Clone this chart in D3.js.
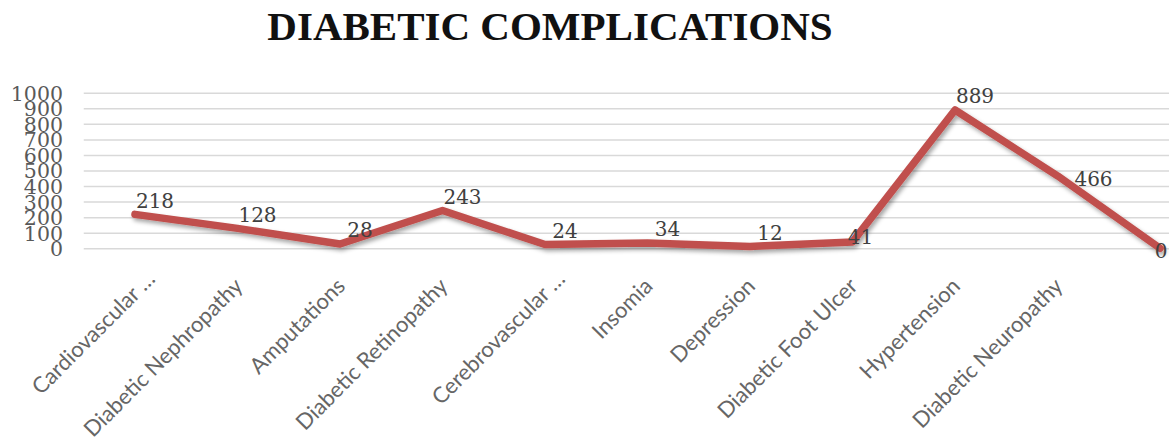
<!DOCTYPE html>
<html>
<head>
<meta charset="utf-8">
<script src="https://cdn.jsdelivr.net/npm/d3@7"></script>
<style>
  html, body { margin: 0; padding: 0; background: #fff; }
  svg { display: block; }
</style>
</head>
<body>
<svg id="chart" width="1169" height="441"></svg>
<script>
// Complications and patient counts
const categories = [
  "Cardiovascular …",
  "Diabetic Nephropathy",
  "Amputations",
  "Diabetic Retinopathy",
  "Cerebrovascular …",
  "Insomia",
  "Depression",
  "Diabetic Foot Ulcer",
  "Hypertension",
  "Diabetic Neuropathy",
  ""
];
const counts = [218, 128, 28, 243, 24, 34, 12, 41, 889, 466, 0];
const yTicks = [0, 100, 200, 300, 400, 500, 600, 700, 800, 900, 1000];
const title = "DIABETIC COMPLICATIONS";

const svg = d3.select("#chart");

// plot area (extends past the right edge, which crops it)
const plotLeft = 83.75, plotRight = 1211.25;
const plotTop = 92.7, plotBottom = 248.3;

const x = d3.scalePoint().domain(categories).range([plotLeft, plotRight]).padding(0.5);
const y = d3.scaleLinear().domain([0, 1000]).range([plotBottom, plotTop]);

const defs = svg.append("defs");
const shadow = defs.append("filter").attr("id", "lineShadow")
  .attr("x", "-5%").attr("y", "-20%").attr("width", "110%").attr("height", "150%");
shadow.append("feDropShadow")
  .attr("dx", 2).attr("dy", 3).attr("stdDeviation", 2)
  .attr("flood-color", "#000").attr("flood-opacity", 0.35);

// title
svg.append("text")
  .attr("x", 550).attr("y", 40)
  .attr("text-anchor", "middle")
  .style("font-family", "'Liberation Serif', 'Times New Roman', serif")
  .style("font-weight", "bold")
  .style("font-size", "41px")
  .style("fill", "#111")
  .text(title);

// gridlines
const grid = d3.axisLeft(y).tickValues(yTicks).tickSize(-(plotRight - plotLeft)).tickFormat("");
svg.append("g")
  .attr("transform", `translate(${plotLeft},0)`)
  .call(grid)
  .call(g => g.select(".domain").remove())
  .call(g => g.selectAll("line").attr("stroke", "#d9d9d9").attr("stroke-width", 1.5));

// y tick labels
const yAxis = d3.axisLeft(y).tickValues(yTicks).tickFormat(d3.format("d")).tickSize(0).tickPadding(0);
svg.append("g")
  .attr("transform", `translate(63,0)`)
  .call(yAxis)
  .call(g => g.select(".domain").remove())
  .call(g => g.selectAll("text")
    .attr("dy", "0.36em")
    .style("font-family", "'DejaVu Serif', serif")
    .style("font-size", "20.5px")
    .style("fill", "#595959"));

// x category labels, rotated; shortened names end a little further up-right
const xAxis = d3.axisBottom(x).tickSize(0).tickPadding(0);
svg.append("g")
  .call(xAxis)
  .call(g => g.select(".domain").remove())
  .call(g => g.selectAll(".tick").attr("transform", null))
  .call(g => g.selectAll("text")
    .attr("text-anchor", "end")
    .attr("y", null)
    .attr("transform", d => {
      const cut = d.endsWith("…");
      return `translate(${x(d) + 1 + (cut ? 15 : 0)},${282 - (cut ? 7 : 0)}) rotate(-45)`;
    })
    .attr("dy", "0.35em")
    .style("font-family", "Lato, 'Open Sans', sans-serif")
    .style("font-size", "22px")
    .style("fill", "#666"));

// the line
const line = d3.line().x((d, i) => x(categories[i])).y(d => y(d));
svg.append("path")
  .datum(counts)
  .attr("d", line)
  .attr("fill", "none")
  .attr("stroke", "#c0504d")
  .attr("stroke-width", 7.5)
  .attr("stroke-linejoin", "round")
  .attr("stroke-linecap", "round")
  .attr("filter", "url(#lineShadow)");

// value labels: above-right of each point, with a few nudged clear of the line
const labelNudge = { 7: [8, -5], 9: [36, 3], 10: [1, 2] };
svg.append("g").selectAll("text")
  .data(counts)
  .join("text")
  .attr("x", (d, i) => x(categories[i]) + (labelNudge[i] ? labelNudge[i][0] : 20))
  .attr("y", (d, i) => y(d) + (labelNudge[i] ? labelNudge[i][1] : -14))
  .attr("dy", "0.36em")
  .attr("text-anchor", "middle")
  .style("font-family", "'DejaVu Serif', serif")
  .style("font-size", "20px")
  .style("fill", "#404040")
  .text(d => d);
</script>
</body>
</html>
